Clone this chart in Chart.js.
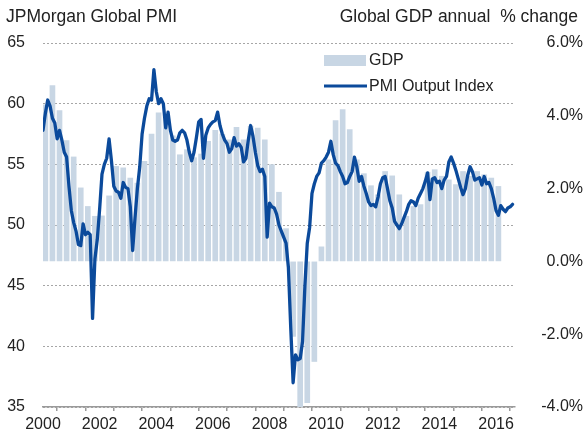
<!DOCTYPE html>
<html>
<head>
<meta charset="utf-8">
<title>JPMorgan Global PMI vs Global GDP</title>
<script src="https://cdn.jsdelivr.net/npm/chart.js@4"></script>
<style>
  html, body { margin: 0; padding: 0; background: #ffffff; }
  canvas { display: block; }
</style>
</head>
<body>
<canvas id="pmiChart" width="583" height="442"></canvas>
<script>
// Monthly PMI output index, Jan 2000 - Aug 2016
const pmiStartYear = 2000;
const pmi = [
    57.8, 59.2, 60.3, 59.8, 58.8, 58.4, 57.1, 57.8, 57.0, 56.0, 55.6, 53.2, // 2000
    51.2, 50.2, 49.5, 48.4, 48.3, 50.1, 49.2, 49.4, 49.2, 42.3, 47.2, 48.8, // 2001
    51.3, 54.2, 55.0, 55.5, 57.1, 55.3, 53.2, 52.8, 52.7, 52.2, 53.5, 53.1, // 2002
    53.0, 51.5, 47.9, 50.6, 53.0, 54.8, 57.5, 58.8, 59.8, 60.4, 60.3, 62.8, // 2003
    61.0, 60.0, 60.4, 60.0, 58.0, 59.3, 57.8, 57.0, 56.9, 57.0, 57.6, 57.8, // 2004
    57.6, 57.0, 56.0, 55.3, 56.0, 57.2, 58.5, 58.7, 55.5, 57.4, 58.0, 58.3, // 2005
    58.5, 58.6, 59.3, 58.2, 57.5, 57.0, 56.7, 56.0, 56.3, 57.2, 56.5, 56.7, // 2006
    56.4, 55.2, 55.5, 57.0, 58.2, 57.3, 56.0, 54.9, 54.4, 54.6, 54.0, 49.0, // 2007
    51.8, 51.5, 51.4, 50.9, 50.0, 49.5, 49.0, 48.5, 46.5, 41.5, 37.0, 39.3, // 2008
    38.9, 39.0, 40.4, 45.0, 48.5, 49.8, 52.6, 53.4, 54.0, 54.3, 55.1, 55.3, // 2009
    55.6, 56.0, 56.9, 55.8, 55.1, 54.9, 54.4, 54.0, 53.4, 53.5, 54.0, 54.4, // 2010
    55.6, 54.8, 53.6, 54.0, 53.2, 52.6, 51.9, 51.6, 51.7, 51.5, 52.3, 53.4, // 2011
    53.9, 54.0, 53.0, 52.0, 51.4, 50.3, 50.0, 49.7, 50.1, 50.6, 51.1, 51.7, // 2012
    52.0, 51.9, 51.6, 52.2, 52.6, 53.0, 53.6, 54.3, 52.1, 53.8, 53.9, 53.5, // 2013
    53.6, 53.0, 53.7, 54.0, 55.2, 55.6, 55.1, 54.5, 53.8, 53.1, 52.5, 53.0, // 2014
    54.1, 54.8, 54.4, 53.7, 53.8, 53.9, 53.3, 54.0, 53.4, 53.5, 53.0, 52.2, // 2015
    51.2, 50.8, 51.6, 51.3, 51.1, 51.4, 51.5, 51.7                          // 2016
];

// Quarterly global GDP, annual % change, 2000Q1 - 2016Q1
const gdpStartYear = 2000;
const gdp = [
    4.30, 4.83, 4.14, 3.32,   // 2000
    2.87, 2.02, 1.51, 1.24,   // 2001
    1.25, 1.80, 2.61, 2.57,   // 2002
    2.29, 2.15, 2.75, 3.50,   // 2003
    4.08, 4.05, 3.45, 2.93,   // 2004
    3.07, 2.85, 2.95, 3.30,   // 2005
    3.60, 3.50, 3.34, 3.68,   // 2006
    3.34, 3.71, 3.66, 3.34,   // 2007
    2.66, 1.90, 0.90, -2.06,  // 2008
    -4.00, -3.88, -2.75, 0.40, // 2009
    2.79, 3.87, 4.17, 3.62,   // 2010
    2.79, 2.41, 2.08, 1.83,   // 2011
    2.47, 2.35, 1.83, 1.24,   // 2012
    1.51, 1.56, 2.45, 2.52,   // 2013
    2.34, 2.24, 2.11, 2.47,   // 2014
    2.34, 2.47, 2.38, 2.29,   // 2015
    2.06                      // 2016
];

const yearLabels = ['2000', '2002', '2004', '2006', '2008', '2010', '2012', '2014', '2016'];

const titleLeft = 'JPMorgan Global PMI';
const titleRight = 'Global GDP annual  % change';

const gdpColor = 'rgb(200, 214, 228)';
const pmiColor = '#0b4a9b';
const textColor = '#222222';
const fontFamily = '"Liberation Sans", Arial, Helvetica, sans-serif';

Chart.defaults.font.family = fontFamily;
Chart.defaults.font.size = 16;
Chart.defaults.color = textColor;

// titles and the legend box inside the plot
const overlayPlugin = {
    id: 'overlay',
    afterDraw(chart) {
        const ctx = chart.ctx;
        ctx.save();
        ctx.fillStyle = textColor;
        ctx.font = '17.5px ' + fontFamily;
        ctx.textBaseline = 'alphabetic';
        ctx.textAlign = 'left';
        ctx.fillText(titleLeft, 6, 22);
        ctx.textAlign = 'right';
        ctx.fillText(titleRight, 578, 22);

        // legend
        ctx.fillStyle = gdpColor;
        ctx.fillRect(324, 55, 42, 11);
        ctx.strokeStyle = pmiColor;
        ctx.lineWidth = 3;
        ctx.beginPath();
        ctx.moveTo(324, 86);
        ctx.lineTo(367, 86);
        ctx.stroke();

        ctx.fillStyle = textColor;
        ctx.font = '16px ' + fontFamily;
        ctx.textAlign = 'left';
        ctx.textBaseline = 'middle';
        ctx.fillText('GDP', 369, 61);
        ctx.fillText('PMI Output Index', 369, 87);
        ctx.restore();
    }
};

const ctx = document.getElementById('pmiChart');
new Chart(ctx, {
    data: {
        datasets: [
            {
                type: 'line',
                label: 'PMI Output Index',
                data: pmi.map((v, i) => ({ x: pmiStartYear + i / 12, y: v })),
                xAxisID: 'x',
                yAxisID: 'y',
                borderColor: pmiColor,
                borderWidth: 3.3,
                borderJoinStyle: 'round',
                borderCapStyle: 'round',
                pointRadius: 0,
                tension: 0,
                fill: false,
                order: 0
            },
            {
                type: 'bar',
                label: 'GDP',
                data: gdp.map((v, k) => ({ x: gdpStartYear + k / 4 + 1 / 12, y: v })),
                xAxisID: 'x',
                yAxisID: 'y2',
                backgroundColor: gdpColor,
                borderWidth: 0,
                barThickness: 5,
                order: 1
            }
        ]
    },
    options: {
        responsive: false,
        animation: false,
        layout: {
            padding: { top: 43, left: 0, right: 0, bottom: 0 }
        },
        plugins: {
            legend: { display: false },
            tooltip: { enabled: false }
        },
        scales: {
            x: {
                type: 'linear',
                min: 2000,
                max: 2016.67,
                offset: false,
                grid: {
                    drawOnChartArea: false,
                    drawTicks: true,
                    tickLength: 4,
                    color: '#9a9a9a',
                    lineWidth: 1.5
                },
                border: { display: true, color: '#9a9a9a', width: 1.5 },
                ticks: {
                    stepSize: 1,
                    autoSkip: false,
                    includeBounds: false,
                    maxRotation: 0,
                    padding: 4,
                    color: textColor,
                    callback: function(value) {
                        const label = String(value);
                        return yearLabels.includes(label) ? label : '';
                    }
                },
                afterFit: function(scale) { scale.height = 35; }
            },
            y: {
                position: 'left',
                min: 35,
                max: 65,
                ticks: {
                    stepSize: 5,
                    padding: 18,
                    color: textColor
                },
                grid: {
                    color: '#a6a6a6',
                    lineWidth: 1,
                    drawTicks: false
                },
                border: { display: false, dash: [2, 2] },
                afterFit: function(scale) { scale.width = 43; }
            },
            y2: {
                position: 'right',
                min: -4,
                max: 6,
                ticks: {
                    stepSize: 2,
                    crossAlign: 'far',
                    padding: 18,
                    color: textColor,
                    callback: function(value) { return value.toFixed(1) + '%'; }
                },
                grid: { drawOnChartArea: false, drawTicks: false },
                border: { display: false },
                afterFit: function(scale) { scale.width = 68; }
            }
        }
    },
    plugins: [overlayPlugin]
});
</script>
</body>
</html>
